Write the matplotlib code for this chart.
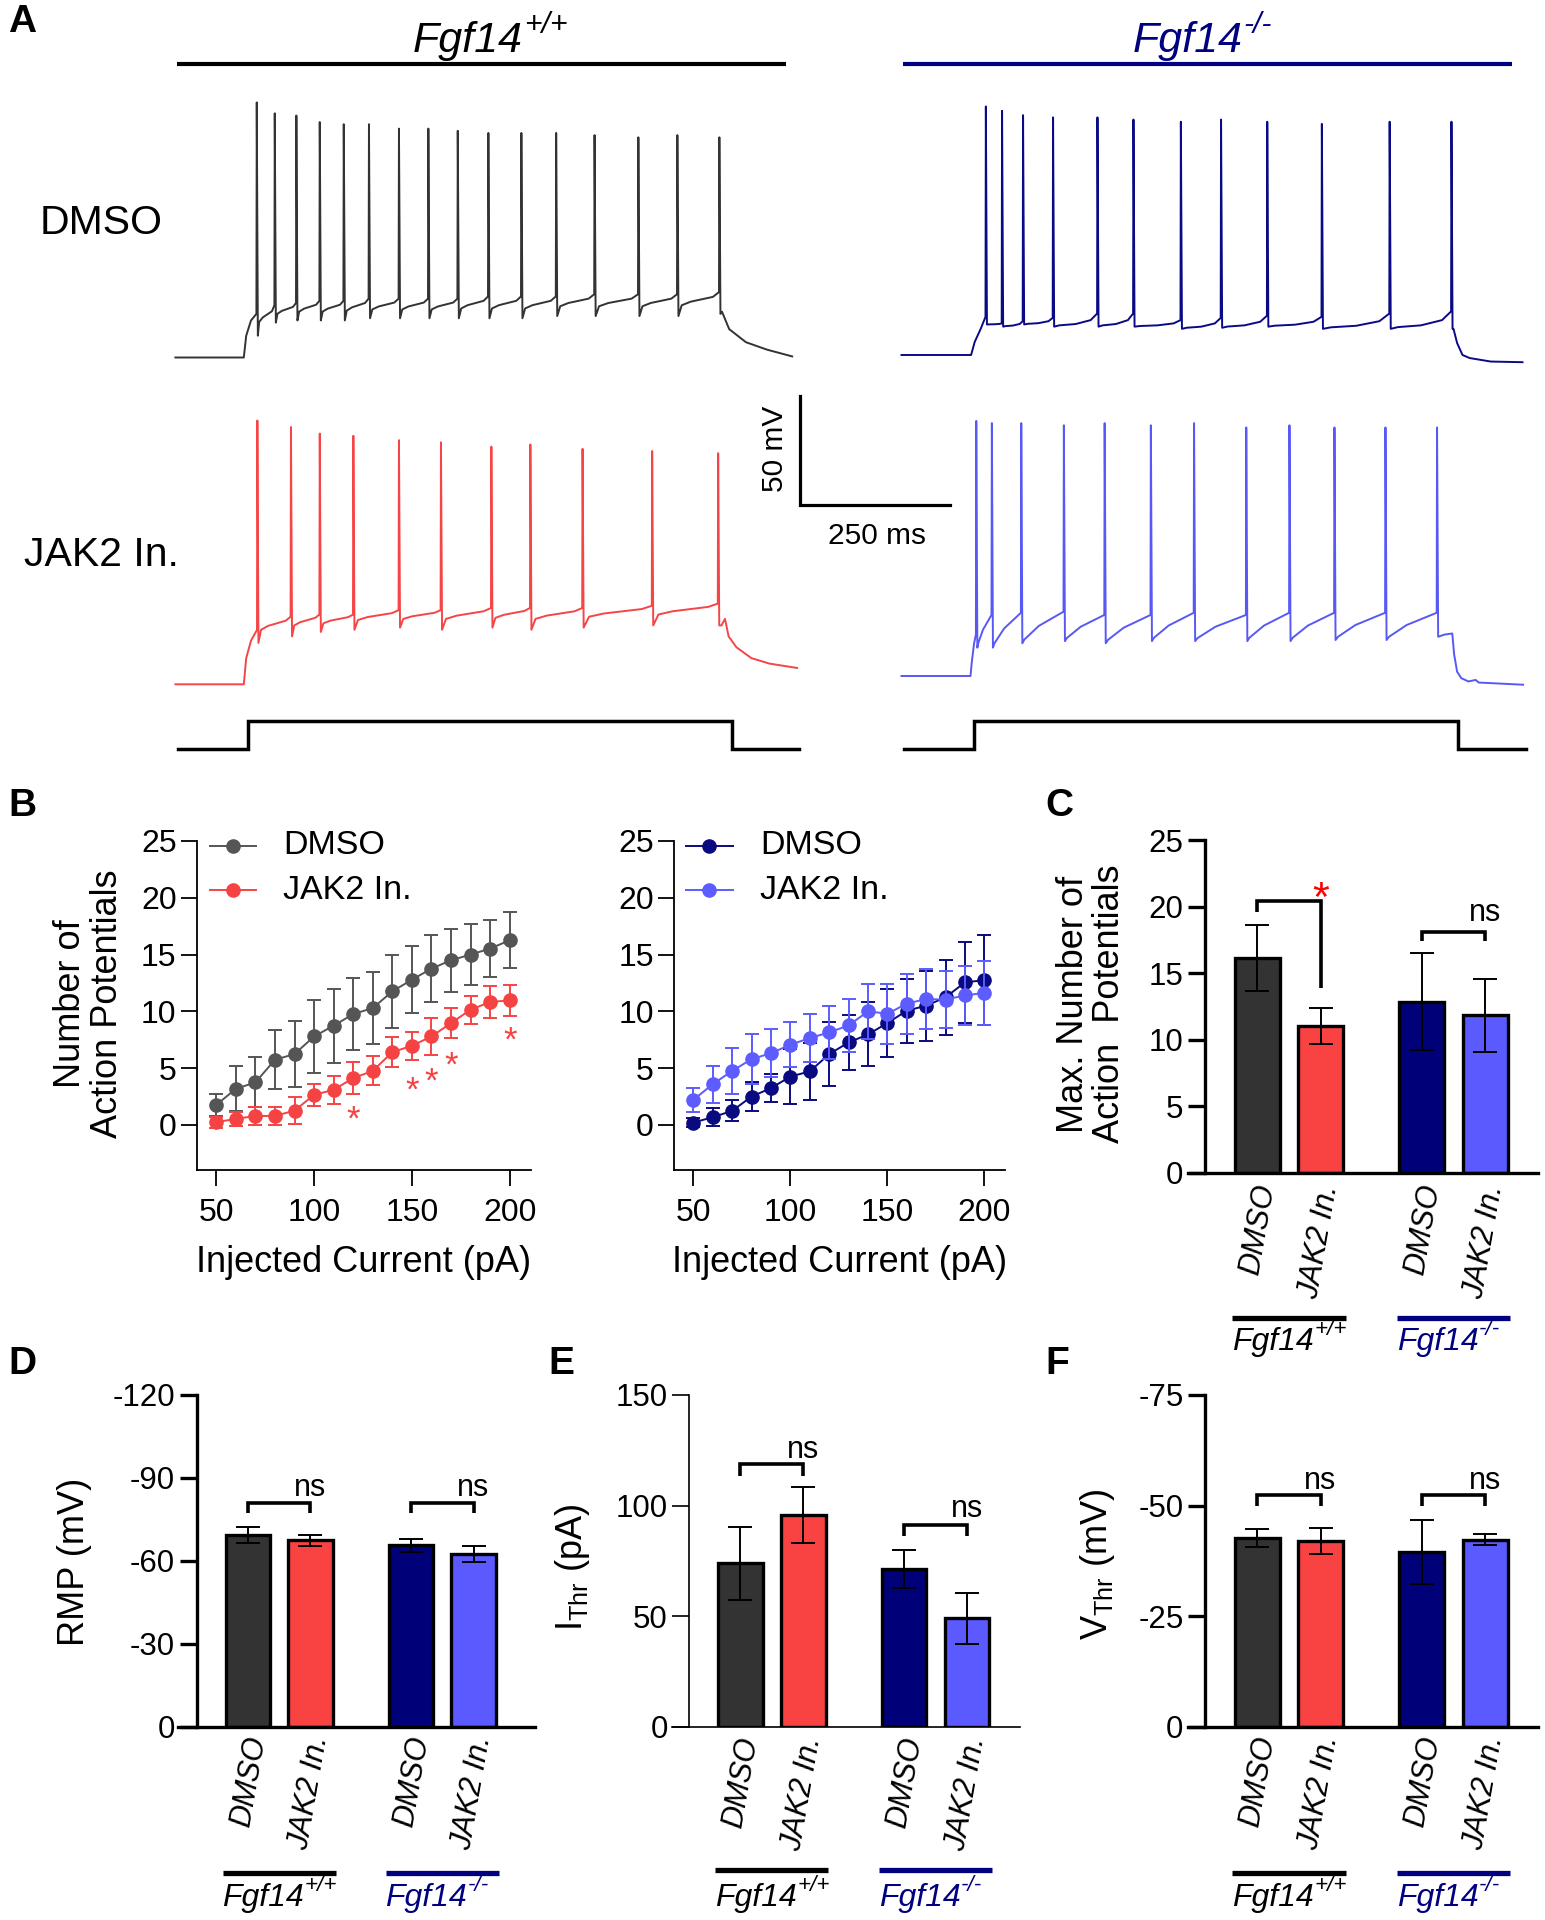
import numpy as np
import matplotlib
matplotlib.use('Agg')
import matplotlib.pyplot as plt
import matplotlib.transforms as mtransforms
from matplotlib.text import Annotation

plt.rcParams['font.family'] = ['Liberation Sans', 'DejaVu Sans']
plt.rcParams['mathtext.fontset'] = 'custom'
plt.rcParams['mathtext.rm'] = 'Liberation Sans'
plt.rcParams['mathtext.it'] = 'Liberation Sans:italic'
plt.rcParams['mathtext.bf'] = 'Liberation Sans:bold'

W, H = 1545, 1920
fig = plt.figure(figsize=(W / 100, H / 100), dpi=100)

# ======================= DATA =======================
# ---- Panel A: representative traces (ms from sweep start; mV above rest) ----
REST_MV = -70.0
SWEEP_MS = 1040
CMD_T = [4, 121, 121, 928, 928, 1040]
CMD_LEVEL = [0, 0, 1, 1, 0, 0]
SCALE_MS = 250
SCALE_MV = 50

WT_DMSO_SPK_T = [135, 165, 201, 240, 280, 322, 372, 421, 470, 521, 576, 634, 698, 771, 836, 906]
WT_DMSO_SPK_PK = [117, 112, 111, 108, 107, 107, 105, 105, 104, 103, 103, 103, 102, 101, 102, 101]
WT_DMSO_PRE = [20, 24, 25, 26, 26, 27, 27, 27, 27, 28, 28, 28, 29, 29, 29, 30]
WT_DMSO_TROUGH = [10, 16, 17, 17, 17, 18, 18, 18, 18, 18, 18, 19, 19, 19, 19, 20]
WT_DMSO_ONSET = [(114, 0), (118, 10), (126, 17)]
WT_DMSO_TAIL = [(911, 21), (923, 13), (951, 7), (986, 3.6), (1028, 0.5)]

WT_JAK_SPK_T = [136, 192, 240, 296, 372, 442, 526, 591, 678, 794, 904]
WT_JAK_SPK_PK = [121, 118, 115, 114, 112, 111, 109, 110, 108, 107, 106]
WT_JAK_PRE = [25, 31, 32, 32, 34, 34, 35, 35, 35, 36, 37]
WT_JAK_TROUGH = [19, 22, 24, 25, 26, 25, 26, 25, 26, 27, 27]
WT_JAK_ONSET = [(114, 0), (118, 12), (126, 20)]
WT_JAK_TAIL = [(910, 27), (916, 30), (922, 22), (935, 17), (960, 12), (990, 9.5), (1036, 7.5)]

KO_DMSO_SPK_T = [140, 167, 202, 252, 326, 386, 465, 532, 609, 700, 813, 916]
KO_DMSO_SPK_PK = [114, 112, 110, 109, 109, 108, 107, 108, 107, 106, 107, 107]
KO_DMSO_PRE = [17.5, 14.5, 15.5, 17, 19, 19, 16, 17, 18, 17.5, 19, 20]
KO_DMSO_TROUGH = [14, 13, 14, 13, 13, 13, 12, 12.5, 13, 12, 12, 12]
KO_DMSO_ONSET = [(116, 0), (122, 6), (132, 12)]
KO_DMSO_TAIL = [(920, 12), (926, 5.5), (935, 0), (947, -1.4), (982, -3), (1035, -3.3)]

KO_JAK_SPK_T = [124, 150, 199, 270, 338, 415, 487, 574, 646, 721, 806, 892]
KO_JAK_SPK_PK = [117, 116, 116, 115, 116, 115, 116, 114, 115, 114, 114, 114]
KO_JAK_PRE = [19, 28, 29, 29.5, 28, 28, 29, 28, 29, 29, 29, 29]
KO_JAK_TROUGH = [13, 13, 15, 16, 15, 16, 16, 16, 16, 16.5, 16.5, 18]
KO_JAK_ONSET = [(115, 0), (117, 6), (121, 15)]
KO_JAK_TAIL = [(905, 19), (918, 19.5), (921, 10), (926, 2), (933, -1), (945, -2.5),
               (957, -1.8), (962, -3), (1036, -4)]

# ---- Panel B: number of APs vs injected current ----
CURRENT_PA = [50, 60, 70, 80, 90, 100, 110, 120, 130, 140, 150, 160, 170, 180, 190, 200]
WT_DMSO_AP = [1.76, 3.18, 3.74, 5.74, 6.24, 7.79, 8.74, 9.76, 10.29, 11.76, 12.79, 13.76, 14.5, 15.0, 15.53, 16.26]
WT_DMSO_SEM = [0.98, 1.97, 2.2, 2.58, 2.88, 3.18, 3.25, 3.18, 3.18, 3.24, 2.95, 2.95, 2.76, 2.65, 2.5, 2.48]
WT_JAK_AP = [0.24, 0.53, 0.79, 0.79, 1.26, 2.65, 3.09, 4.12, 4.76, 6.41, 6.97, 7.79, 8.97, 10.15, 10.82, 10.97]
WT_JAK_SEM = [0.5, 0.65, 0.83, 0.83, 1.18, 0.97, 1.23, 1.38, 1.27, 1.33, 1.21, 1.62, 1.32, 1.23, 1.39, 1.38]
KO_DMSO_AP = [0.21, 0.68, 1.24, 2.5, 3.24, 4.26, 4.71, 6.24, 7.26, 7.97, 8.97, 10.06, 10.5, 11.24, 12.56, 12.74]
KO_DMSO_SEM = [0.38, 0.79, 0.91, 1.24, 1.26, 2.42, 2.5, 2.79, 2.45, 2.82, 3.0, 2.82, 3.09, 3.32, 3.56, 3.97]
KO_JAK_AP = [2.21, 3.59, 4.76, 5.79, 6.32, 7.06, 7.65, 8.15, 8.76, 10.0, 9.79, 10.68, 11.09, 11.03, 11.41, 11.62]
KO_JAK_SEM = [1.03, 1.62, 2.0, 2.21, 2.12, 2.0, 2.14, 2.35, 2.33, 2.44, 2.65, 2.64, 2.67, 2.5, 2.62, 2.79]
WT_SIG_X = [120, 150, 160, 170, 200]
WT_SIG_Y = [1.32, 3.91, 4.71, 6.12, 8.32]
B_XTICKS = [50, 100, 150, 200]
B_YTICKS = [0, 5, 10, 15, 20, 25]

# ---- Panels C-F: bar graphs (order: WT DMSO, WT JAK2 In., KO DMSO, KO JAK2 In.) ----
CONDITIONS = ['DMSO', 'JAK2 In.', 'DMSO', 'JAK2 In.']
GENOTYPE = 'Fgf14'
GENO_SUP = ['+/+', '-/-']
MAX_AP = [16.15, 11.06, 12.86, 11.84]
MAX_AP_SEM = [2.5, 1.35, 3.64, 2.72]
RMP = [-69.2, -67.4, -65.6, -62.5]
RMP_SEM = [2.9, 2.0, 2.3, 2.8]
ITHR = [74.0, 95.7, 71.4, 49.0]
ITHR_SEM = [16.5, 12.8, 8.5, 11.5]
VTHR = [-42.7, -42.0, -39.55, -42.3]
VTHR_SEM = [2.1, 2.9, 7.2, 1.25]

C_YTICKS = [0, 5, 10, 15, 20, 25]
D_YTICKS = [0, -30, -60, -90, -120]
E_YTICKS = [0, 50, 100, 150]
F_YTICKS = [0, -25, -50, -75]

# brackets: (x_left, x_right, y_top, y_left_leg, y_right_leg, label, label_y, label_color)
C_BRACKETS = [(0, 1, 20.45, 19.6, 13.9, '*', 21.55, '#ff0000'),
              (2.6, 3.6, 18.12, 17.45, 17.45, 'ns', 18.93, 'black')]
D_BRACKETS = [(0, 1, -80.9, -77.2, -77.2, 'ns', -83.4, 'black'),
              (2.6, 3.6, -80.9, -77.2, -77.2, 'ns', -83.4, 'black')]
E_BRACKETS = [(0, 1, 118.7, 113.6, 113.6, 'ns', 121.3, 'black'),
              (2.6, 3.6, 91.4, 86.3, 86.3, 'ns', 94.8, 'black')]
F_BRACKETS = [(0, 1, -52.3, -50.0, -50.0, 'ns', -53.8, 'black'),
              (2.6, 3.6, -52.3, -50.0, -50.0, 'ns', -53.8, 'black')]

# ======================= STYLE =======================
POS = [0, 1, 2.6, 3.6]
BAR_COLORS = ['#333333', '#f94242', '#000078', '#5a5aff']
TR_WT_DMSO = '#333333'
TR_WT_JAK = '#f54545'
TR_KO_DMSO = '#0a0a85'
TR_KO_JAK = '#5858f5'
B_WT_DMSO = '#555555'
B_WT_JAK = '#f54343'
B_KO_DMSO = '#0a0a80'
B_KO_JAK = '#5c5cff'
NAVY = '#000080'
PX_PER_MS = 0.6
PX_PER_MV = 2.18


def px_axes(x0, y0, x1, y1):
    return fig.add_axes([x0 / W, 1 - y1 / H, (x1 - x0) / W, (y1 - y0) / H])


def ftext(x, y, s, **kw):
    return fig.text(x / W, 1 - y / H, s, **kw)


def add_sup(main, sup, fs, color):
    ann = Annotation(sup, xy=(1.0, 0.56), xycoords=main, xytext=(0.5, 0),
                     textcoords='offset points', fontsize=fs * 0.7, style='italic',
                     color=color, ha='left', va='bottom')
    fig.add_artist(ann)
    return ann


# ======================= PANEL A =======================
def build_trace(onset, spk_t, spk_pk, pre, trough, tail, shape):
    t = [0.0]
    v = [0.0]
    for tt, vv in onset:
        t.append(tt)
        v.append(vv)
    n = len(spk_t)
    for i in range(n):
        ts = spk_t[i]
        t += [ts, ts + 0.6, ts + 2.4]
        v += [pre[i], spk_pk[i], trough[i]]
        if i < n - 1:
            t0 = ts + 2.4
            t1 = spk_t[i + 1]
            for ft, fv in shape:
                t.append(t0 + ft * (t1 - t0))
                v.append(trough[i] + fv * (pre[i + 1] - trough[i]))
    for tt, vv in tail:
        t.append(tt)
        v.append(vv)
    return np.array(t), REST_MV + np.array(v)


def trace_axes(x0_px, rest_px, y_top_px, y_bot_px):
    ax = px_axes(x0_px, y_top_px, x0_px + SWEEP_MS * PX_PER_MS, y_bot_px)
    ax.set_xlim(0, SWEEP_MS)
    lo = REST_MV - (y_bot_px - rest_px) / PX_PER_MV
    hi = REST_MV + (rest_px - y_top_px) / PX_PER_MV
    ax.set_ylim(lo, hi)
    ax.axis('off')
    return ax


SHAPE_WT = [(0.08, 0.45), (0.3, 0.6), (0.85, 0.8)]
SHAPE_WT_JAK = [(0.08, 0.5), (0.3, 0.65), (0.85, 0.85)]
SHAPE_KO = [(0.12, 0.1), (0.5, 0.2), (0.85, 0.5)]
SHAPE_KO_JAK = [(0.05, 0.12), (0.4, 0.55), (0.8, 0.85)]

LEFT_X0, RIGHT_X0 = 175.4, 901.5
traces = [
    (LEFT_X0, 357.5, 85, 380, TR_WT_DMSO,
     build_trace(WT_DMSO_ONSET, WT_DMSO_SPK_T, WT_DMSO_SPK_PK, WT_DMSO_PRE, WT_DMSO_TROUGH, WT_DMSO_TAIL, SHAPE_WT)),
    (RIGHT_X0, 355.0, 85, 380, TR_KO_DMSO,
     build_trace(KO_DMSO_ONSET, KO_DMSO_SPK_T, KO_DMSO_SPK_PK, KO_DMSO_PRE, KO_DMSO_TROUGH, KO_DMSO_TAIL, SHAPE_KO)),
    (LEFT_X0, 684.3, 410, 705, TR_WT_JAK,
     build_trace(WT_JAK_ONSET, WT_JAK_SPK_T, WT_JAK_SPK_PK, WT_JAK_PRE, WT_JAK_TROUGH, WT_JAK_TAIL, SHAPE_WT_JAK)),
    (RIGHT_X0, 676.0, 410, 705, TR_KO_JAK,
     build_trace(KO_JAK_ONSET, KO_JAK_SPK_T, KO_JAK_SPK_PK, KO_JAK_PRE, KO_JAK_TROUGH, KO_JAK_TAIL, SHAPE_KO_JAK)),
]
trace_ax = []
for x0, rest_px, ytop, ybot, col, (tt, vv) in traces:
    ax = trace_axes(x0, rest_px, ytop, ybot)
    ax.plot(tt, vv, color=col, lw=1.4, clip_on=False, solid_joinstyle='round')
    trace_ax.append(ax)

# command steps
for x0 in (LEFT_X0, RIGHT_X0):
    ax = px_axes(x0, 700, x0 + SWEEP_MS * PX_PER_MS, 770)
    ax.set_xlim(0, SWEEP_MS)
    ax.set_ylim(-21 / 28, 1 + 21 / 28)
    ax.axis('off')
    ax.plot(CMD_T, CMD_LEVEL, color='black', lw=2.5, solid_joinstyle='miter', clip_on=False)

# genotype title lines
for ax, col in ((trace_ax[0], 'black'), (trace_ax[1], NAVY)):
    tr = mtransforms.blended_transform_factory(ax.transData, fig.transFigure)
    ax.plot([3, 1018], [1 - 63.5 / H] * 2, color=col, lw=3.0, transform=tr, clip_on=False,
            solid_capstyle='butt')
t1 = ftext(468, 52, GENOTYPE, fontsize=31, style='italic', ha='center', va='baseline', color='black')
add_sup(t1, GENO_SUP[0], 31, 'black')
t2 = ftext(1188, 52, GENOTYPE, fontsize=31, style='italic', ha='center', va='baseline', color=NAVY)
add_sup(t2, GENO_SUP[1], 31, NAVY)

# row labels
ftext(101.6, 222.8, 'DMSO', fontsize=29.5, ha='center', va='center')
ftext(101.6, 554.6, 'JAK2 In.', fontsize=29.5, ha='center', va='center')

# scale bar
sb = px_axes(790, 385, 960, 515)
sb.set_xlim(-10 / PX_PER_MS, 160 / PX_PER_MS)
sb.set_ylim(-10.5 / PX_PER_MV, 119.5 / PX_PER_MV)
sb.axis('off')
sb.plot([0, 0, SCALE_MS], [SCALE_MV, 0, 0], color='black', lw=2.3, solid_joinstyle='miter')
ftext(775, 449, f'{SCALE_MV} mV', fontsize=21.5, ha='center', va='center', rotation=90)
ftext(877, 536, f'{SCALE_MS} ms', fontsize=21.5, ha='center', va='center')


# ======================= PANEL B =======================
def style_b(ax):
    for s in ('top', 'right'):
        ax.spines[s].set_visible(False)
    for s in ('left', 'bottom'):
        ax.spines[s].set_linewidth(1.3)
    ax.tick_params(length=11.5, width=1.3, labelsize=23)
    ax.tick_params(axis='x', pad=9)
    ax.tick_params(axis='y', pad=3)
    ax.set_xlim(40, 210.6)
    ax.set_ylim(-3.97, 25)
    ax.set_xticks(B_XTICKS)
    ax.set_yticks(B_YTICKS)
    ax.patch.set_alpha(0)


def legend_manual(ax, items, x0, x1, xt, ys):
    for (label, col), y in zip(items, ys):
        ax.plot([x0, x1], [y, y], color=col, lw=1.4, transform=ax.transAxes, clip_on=False)
        ax.plot([(x0 + x1) / 2], [y], 'o', ms=9.5, color=col, transform=ax.transAxes, clip_on=False)
        ax.text(xt, y, label, transform=ax.transAxes, fontsize=24.5, va='center', ha='left')


axB1 = px_axes(196.7, 841, 530.5, 1170)
axB2 = px_axes(674, 841, 1005, 1170)
for ax, series in ((axB1, [(WT_DMSO_AP, WT_DMSO_SEM, B_WT_DMSO), (WT_JAK_AP, WT_JAK_SEM, B_WT_JAK)]),
                   (axB2, [(KO_DMSO_AP, KO_DMSO_SEM, B_KO_DMSO), (KO_JAK_AP, KO_JAK_SEM, B_KO_JAK)])):
    for k, (m, e, c) in enumerate(series):
        ax.errorbar(CURRENT_PA, m, yerr=e, color=c, marker='o', ms=9.5, lw=1.4,
                    elinewidth=1.4, capsize=5, capthick=1.4, zorder=3 + k, clip_on=False)
    style_b(ax)

# significance asterisks in B (positions are glyph centres)
ast_fs = 25
ast_off = mtransforms.ScaledTranslation(0, -0.575 * ast_fs / 72, fig.dpi_scale_trans)
for x, y in zip(WT_SIG_X, WT_SIG_Y):
    axB1.text(x, y, '*', color=B_WT_JAK, fontsize=ast_fs, ha='center', va='baseline',
              transform=axB1.transData + ast_off)

legend_manual(axB1, [('DMSO', B_WT_DMSO), ('JAK2 In.', B_WT_JAK)], 0.0395, 0.179, 0.26, [0.985, 0.85])
legend_manual(axB2, [('DMSO', B_KO_DMSO), ('JAK2 In.', B_KO_JAK)], 0.036, 0.177, 0.26, [0.985, 0.85])

ftext(363.6, 1262, 'Injected Current (pA)', fontsize=26, ha='center', va='center')
ftext(839.5, 1262, 'Injected Current (pA)', fontsize=26, ha='center', va='center')
ftext(89, 1004, 'Number of\nAction Potentials', fontsize=26, ha='center', va='center',
      rotation=90, multialignment='center', linespacing=1.05)


# ======================= PANELS C-F =======================
def bar_panel(box, xlim, spine_x, ylim, yticks, vals, errs, spine_lw, brackets,
              label_dy, group_line_y, group_text_y, ylabel, ylabel_xy, ylabel_kw=None):
    ax = px_axes(*box)
    ax.patch.set_alpha(0)
    ax.bar(POS, vals, width=0.71, color=BAR_COLORS, edgecolor='black', linewidth=2.4, zorder=2)
    ax.errorbar(POS, vals, yerr=errs, fmt='none', ecolor='black', elinewidth=1.4,
                capsize=8.5, capthick=1.4, zorder=3)
    ax.set_xlim(*xlim)
    ax.set_ylim(*ylim)
    for s in ('top', 'right'):
        ax.spines[s].set_visible(False)
    ax.spines['left'].set_position(('data', spine_x))
    for s in ('left', 'bottom'):
        ax.spines[s].set_linewidth(spine_lw)
    ax.set_yticks(yticks)
    ax.set_yticklabels([f'{t:g}' for t in yticks])
    ax.tick_params(axis='y', length=12.5, width=spine_lw, labelsize=22.5, pad=3)
    ax.set_xticks([])
    # rotated condition labels
    off = mtransforms.ScaledTranslation(9 / 100, -label_dy / 100, fig.dpi_scale_trans)
    trx = mtransforms.blended_transform_factory(ax.transData, ax.transAxes)
    for p, lab in zip(POS, CONDITIONS):
        ax.text(p, 0, lab, transform=trx + off, rotation=80, rotation_mode='anchor',
                ha='right', va='center', fontsize=22, fontstyle='italic')
    # brackets
    for xa, xb, ytop, yla, ylb, lab, laby, labc in brackets:
        ax.plot([xa, xa, xb, xb], [yla, ytop, ytop, ylb], color='black', lw=2.6,
                solid_joinstyle='miter', solid_capstyle='butt', clip_on=False, zorder=4)
        if lab == '*':
            fs = 31
            o = mtransforms.ScaledTranslation(0, -0.575 * fs / 72, fig.dpi_scale_trans)
            ax.text(xb, laby, lab, color=labc, fontsize=fs, ha='center', va='baseline',
                    transform=ax.transData + o)
        else:
            ax.text(xb, laby, lab, color=labc, fontsize=22, ha='center', va='baseline')
    # genotype group lines and labels
    trg = mtransforms.blended_transform_factory(ax.transData, fig.transFigure)
    shift = mtransforms.ScaledTranslation(-16 / 100, 0, fig.dpi_scale_trans)
    for (pa, pb), col, sup in (((POS[0], POS[1]), 'black', GENO_SUP[0]),
                               ((POS[2], POS[3]), NAVY, GENO_SUP[1])):
        ax.plot([pa - 0.40, pb + 0.40], [1 - group_line_y / H] * 2, color=col, lw=3.8,
                transform=trg, clip_on=False, solid_capstyle='butt')
        mt = ax.text((pa + pb) / 2, 1 - group_text_y / H, GENOTYPE, color=col, fontsize=23,
                     style='italic', ha='center', va='center', transform=trg + shift)
        add_sup(mt, sup, 23, col)
    kw = dict(fontsize=26, ha='center', va='center', rotation=90)
    if ylabel_kw:
        kw.update(ylabel_kw)
    ftext(ylabel_xy[0], ylabel_xy[1], ylabel, **kw)
    return ax


bar_panel((1188.3, 840.3, 1538.3, 1173), (-1.09, 4.44), -0.826, (0, 25), C_YTICKS,
          MAX_AP, MAX_AP_SEM, 2.4, C_BRACKETS, 12, 1318.4, 1342,
          'Max. Number of\nAction  Potentials', (1091.5, 1004),
          dict(multialignment='center', linespacing=1.05))
bar_panel((178.3, 1395, 535, 1726.8), (-1.108, 4.58), -0.815, (0, -120), D_YTICKS,
          RMP, RMP_SEM, 2.4, D_BRACKETS, 9.5, 1873, 1898, 'RMP (mV)', (75, 1562))
bar_panel((671.7, 1395, 1020, 1726.8), (-1.087, 4.44), -0.808, (0, 150), E_YTICKS,
          ITHR, ITHR_SEM, 1.2, E_BRACKETS, 10.5, 1870.4, 1898, r'I$_{\mathrm{Thr}}$ (pA)', (573, 1567))
bar_panel((1188.3, 1395, 1538.3, 1726.8), (-1.09, 4.44), -0.826, (0, -75), F_YTICKS,
          VTHR, VTHR_SEM, 2.4, F_BRACKETS, 9.5, 1873, 1898, r'V$_{\mathrm{Thr}}$ (mV)', (1097.5, 1564))

# panel letters
for letter, (x, y) in {'A': (22, 22), 'B': (22, 806), 'C': (1059, 806),
                       'D': (22, 1364), 'E': (561, 1364), 'F': (1057, 1364)}.items():
    ftext(x, y, letter, fontsize=28, fontweight='bold', ha='center', va='center')

fig.savefig('out.png', dpi=100, facecolor='white')
